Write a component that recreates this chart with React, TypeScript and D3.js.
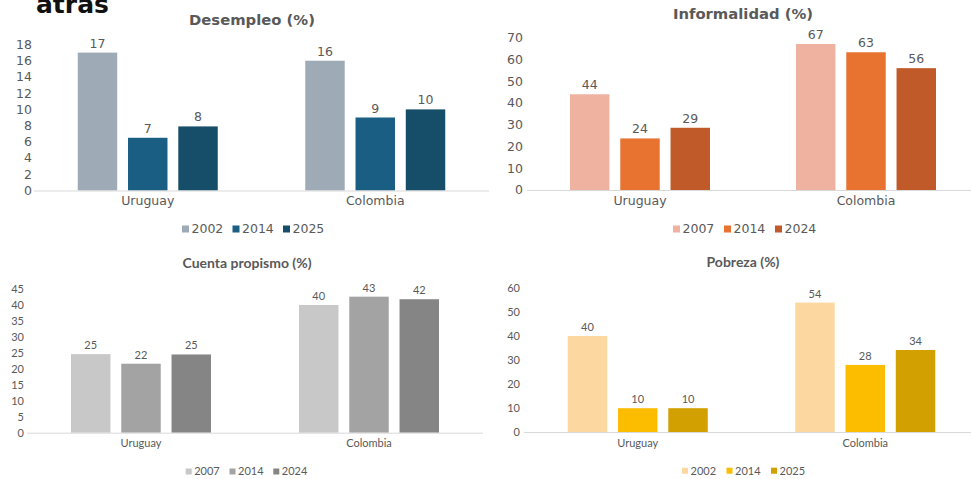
import React from "react";
import * as d3 from "d3";

const categories = ["Uruguay", "Colombia"];

const desempleoSeries = ["2002", "2014", "2025"];
const desempleoValues = [
  [17, 6.5, 7.9],
  [16, 9, 10],
];
const desempleoLabels = [["17", "7", "8"], ["16", "9", "10"]];
const desempleoTicks = [0, 2, 4, 6, 8, 10, 12, 14, 16, 18];

const informalidadSeries = ["2007", "2014", "2024"];
const informalidadValues = [
  [44, 23.7, 28.6],
  [67.1, 63.3, 56],
];
const informalidadLabels = [["44", "24", "29"], ["67", "63", "56"]];
const informalidadTicks = [0, 10, 20, 30, 40, 50, 60, 70];

const propismoSeries = ["2007", "2014", "2024"];
const propismoValues = [
  [24.6, 21.6, 24.5],
  [40, 42.6, 41.8],
];
const propismoLabels = [["25", "22", "25"], ["40", "43", "42"]];
const propismoTicks = [0, 5, 10, 15, 20, 25, 30, 35, 40, 45];

const pobrezaSeries = ["2002", "2014", "2025"];
const pobrezaValues = [
  [39.9, 9.9, 9.9],
  [53.8, 27.9, 34.1],
];
const pobrezaLabels = [["40", "10", "10"], ["54", "28", "34"]];
const pobrezaTicks = [0, 10, 20, 30, 40, 50, 60];

type PanelProps = {
  title: string;
  series: string[];
  values: number[][];
  labels: string[][];
  ticks: number[];
  colors: string[];
  xRange: [number, number];
  yRange: [number, number];
  tickX: number;
  titleX: number;
  titleY: number;
  catY: number;
  legendX: number;
  legendStep: number;
  legendY: number;
  sq: number;
  font: string;
  fontSize: number;
  titleSize: number;
};

function Panel(p: PanelProps) {
  const x0 = d3.scaleBand<string>().domain(categories).range(p.xRange).padding(0);
  const maxT = p.ticks[p.ticks.length - 1];
  const y = d3.scaleLinear().domain([0, maxT]).range(p.yRange);
  const groupW = 140;
  const x1 = d3
    .scaleBand<string>()
    .domain(p.series)
    .range([-groupW / 2, groupW / 2])
    .paddingInner(0.215)
    .paddingOuter(0);
  const txt = "#595959";
  return (
    <g fontFamily={p.font} fill={txt}>
      <text
        x={p.titleX}
        y={p.titleY}
        textAnchor="middle"
        fontWeight="bold"
        fontSize={p.titleSize}
        fill={txt}
      >
        {p.title}
      </text>
      {p.ticks.map((t) => (
        <text
          key={t}
          x={p.tickX}
          y={y(t)}
          dy="0.35em"
          textAnchor="end"
          fontSize={p.fontSize}
        >
          {t}
        </text>
      ))}
      {categories.map((c, ci) => {
        const cx = (x0(c) as number) + x0.bandwidth() / 2;
        return (
          <g key={c}>
            {p.series.map((s, si) => {
              const bx = cx + (x1(s) as number);
              const v = p.values[ci][si];
              return (
                <g key={s}>
                  <rect
                    x={bx}
                    y={y(v)}
                    width={x1.bandwidth()}
                    height={y(0) - y(v)}
                    fill={p.colors[si]}
                  />
                  <text
                    x={bx + x1.bandwidth() / 2}
                    y={y(v) - 5}
                    textAnchor="middle"
                    fontSize={p.fontSize}
                  >
                    {p.labels[ci][si]}
                  </text>
                </g>
              );
            })}
            <text x={cx} y={p.catY} textAnchor="middle" fontSize={p.fontSize}>
              {c}
            </text>
          </g>
        );
      })}
      <line
        x1={p.xRange[0]}
        x2={p.xRange[1]}
        y1={y(0) + 0.5}
        y2={y(0) + 0.5}
        stroke="#d9d9d9"
        strokeWidth={1}
      />
      {p.series.map((s, si) => {
        const lx = p.legendX + si * p.legendStep;
        return (
          <g key={s}>
            <rect
              x={lx}
              y={p.legendY - p.sq / 2}
              width={p.sq}
              height={p.sq}
              fill={p.colors[si]}
            />
            <text x={lx + p.sq + 2.5} y={p.legendY} dy="0.35em" fontSize={p.fontSize}>
              {s}
            </text>
          </g>
        );
      })}
    </g>
  );
}

export default function App() {
  const dj = "'DejaVu Sans', sans-serif";
  const lato = "Lato, 'Open Sans', sans-serif";
  return (
    <svg
      width={971}
      height={479}
      style={{ position: "absolute", left: 0, top: 0, background: "#fff" }}
    >
      <rect width={971} height={479} fill="#fff" />
      <text
        x={36}
        y={13}
        fontFamily={dj}
        fontWeight="bold"
        fontSize={25}
        fill="#111"
      >
        atras
      </text>
      <Panel
        title="Desempleo (%)"
        series={desempleoSeries}
        values={desempleoValues}
        labels={desempleoLabels}
        ticks={desempleoTicks}
        colors={["#9eabb7", "#1b5e83", "#164d69"]}
        xRange={[34, 489]}
        yRange={[190.5, 44.5]}
        tickX={32}
        titleX={252}
        titleY={25}
        catY={205}
        legendX={182}
        legendStep={50.5}
        legendY={229}
        sq={7}
        font={dj}
        fontSize={12.5}
        titleSize={14.8}
      />
      <Panel
        title="Informalidad (%)"
        series={informalidadSeries}
        values={informalidadValues}
        labels={informalidadLabels}
        ticks={informalidadTicks}
        colors={["#f0b2a0", "#e8722f", "#c05a28"]}
        xRange={[527, 979]}
        yRange={[190, 37.7]}
        tickX={523}
        titleX={743}
        titleY={18.5}
        catY={205}
        legendX={673}
        legendStep={51}
        legendY={229}
        sq={7}
        font={dj}
        fontSize={12.5}
        titleSize={14.8}
      />
      <Panel
        title="Cuenta propismo (%)"
        series={propismoSeries}
        values={propismoValues}
        labels={propismoLabels}
        ticks={propismoTicks}
        colors={["#c8c8c8", "#a3a3a3", "#858585"]}
        xRange={[27, 483]}
        yRange={[432.7, 289]}
        tickX={24}
        titleX={247}
        titleY={268}
        catY={447}
        legendX={185.7}
        legendStep={43.8}
        legendY={471.5}
        sq={6}
        font={lato}
        fontSize={11}
        titleSize={14}
      />
      <Panel
        title="Pobreza (%)"
        series={pobrezaSeries}
        values={pobrezaValues}
        labels={pobrezaLabels}
        ticks={pobrezaTicks}
        colors={["#fdd7a0", "#fcbd00", "#d2a000"]}
        xRange={[524, 979]}
        yRange={[432, 287.7]}
        tickX={520}
        titleX={743}
        titleY={266.7}
        catY={447}
        legendX={682}
        legendStep={44.5}
        legendY={470.7}
        sq={6}
        font={lato}
        fontSize={11}
        titleSize={14}
      />
    </svg>
  );
}
